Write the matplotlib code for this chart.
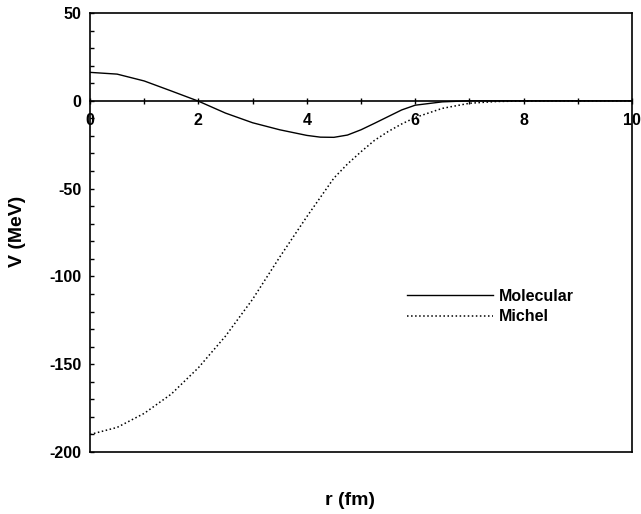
import numpy as np
import matplotlib
import matplotlib.pyplot as plt

plt.rcParams['font.family'] = ['Liberation Sans', 'DejaVu Sans']
plt.rcParams['axes.unicode_minus'] = False

# data
r = [0, 0.5, 1, 1.5, 2, 2.5, 3, 3.5, 4, 4.25, 4.5, 4.75, 5, 5.25, 5.5, 5.75, 6, 6.5, 7, 7.5, 8, 8.5, 9, 9.5, 10]
V_molecular = [16.2, 15.2, 11.3, 5.6, -0.2, -7.0, -12.5, -16.5, -19.7, -20.7, -20.8, -19.5, -16.5, -12.8,
               -9.0, -5.2, -2.5, -0.6, 0, 0, 0, 0, 0, 0, 0]
V_michel = [-190, -186, -178, -167, -152, -134, -113, -89, -66, -55, -44, -36, -29, -22.5,
            -17.5, -13.2, -9.5, -4.3, -1.4, -0.4, -0.1, 0, 0, 0, 0]

fig = plt.figure(figsize=(6.41, 5.14), dpi=100)
ax = fig.add_axes([0.1404, 0.1206, 0.8456, 0.8541])

ax.plot(r, V_molecular, '-', color='k', lw=1.0, label='Molecular')
ax.plot(r, V_michel, ':', color='k', lw=1.1, label='Michel')

ax.set_xlim(0, 10)
ax.set_ylim(-200, 50)

# x axis drawn through V = 0, box closed by hand
ax.spines['bottom'].set_position(('data', 0))
ax.spines['bottom'].set_linewidth(1.2)
ax.plot([0, 1], [0, 0], transform=ax.transAxes, color='k', lw=1.2, clip_on=False)
for s in ['left', 'right', 'top']:
    ax.spines[s].set_linewidth(1.2)

ax.xaxis.set_major_locator(matplotlib.ticker.FixedLocator(np.arange(0, 10.1, 2)))
ax.xaxis.set_minor_locator(matplotlib.ticker.FixedLocator(np.arange(0, 10.1, 1)))
ax.yaxis.set_major_locator(matplotlib.ticker.FixedLocator(np.arange(-200, 51, 50)))
ax.yaxis.set_minor_locator(matplotlib.ticker.FixedLocator(np.arange(-200, 51, 10)))

ax.tick_params(axis='x', which='both', direction='inout', length=5, width=1, pad=6)
ax.tick_params(axis='y', which='both', direction='in', length=3, width=1, pad=6)
for lab in ax.get_xticklabels() + ax.get_yticklabels():
    lab.set_fontweight('bold')
    lab.set_fontsize(11.5)

fig.text(0.028, 0.549, 'V (MeV)', fontsize=14, fontweight='bold', rotation=90,
         ha='center', va='center')
fig.text(0.546, 0.027, 'r (fm)', fontsize=14, fontweight='bold', ha='center', va='center')

ax.legend(loc='upper left', bbox_to_anchor=(0.585, 0.372), frameon=False,
          handlelength=5.4, handletextpad=0.35, labelspacing=0.35, borderpad=0,
          borderaxespad=0, prop={'size': 11.5, 'weight': 'bold'})

plt.savefig('out.png', dpi=100)
